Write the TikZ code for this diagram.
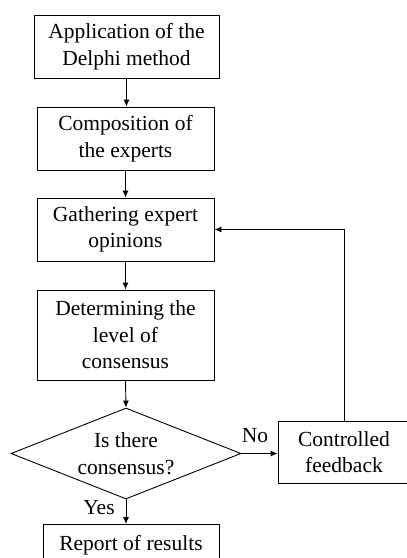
\documentclass[tikz,border=0pt]{standalone}
\usepackage{fontspec}
\setmainfont{Liberation Serif}
\usetikzlibrary{shapes.geometric,arrows.meta}
\begin{document}
\begin{tikzpicture}[x=1pt,y=-1pt,
  every node/.style={font=\fontsize{21.5}{26.5}\selectfont},
  stepbox/.style={draw, line width=0.9pt, align=center, inner sep=0pt, anchor=center},
  conn/.style={line width=0.9pt, -{Latex[length=7pt,width=6pt]}},
  plain/.style={line width=0.9pt}]
\useasboundingbox (0,0) rectangle (407,558);
\node[stepbox, minimum width=185pt, minimum height=63pt] (b1) at (126.5,46.5) {Application of the\\Delphi method};
\node[stepbox, minimum width=177pt, minimum height=63pt] (b2) at (125.5,138.5) {Composition of\\the experts};
\node[stepbox, minimum width=177pt, minimum height=63pt] (b3) at (125.5,229.5) {Gathering expert\\opinions};
\node[stepbox, minimum width=177pt, minimum height=90pt] (b4) at (125.5,335) {Determining the\\level of\\consensus};
\node[stepbox, shape=diamond, minimum width=230pt, minimum height=91pt] (d) at (126,453.5) {};
\node[align=center] (dtext) at (126,453.5) {Is there\\consensus?};
\node[stepbox, minimum width=132pt, minimum height=62pt] (fb) at (344,452) {Controlled\\feedback};
\node[stepbox, anchor=north, minimum width=176pt, minimum height=60pt] (rep) at (131,524) {};
\node (reptext) at (131,545) {Report of results};
\node (no) at (255,436) {No};
\node (yes) at (99,508) {Yes};
\draw[conn] (b1.south) -- (b2.north -| b1.south);
\draw[conn] (b2.south) -- (b3.north);
\draw[conn] (b3.south) -- (b4.north);
\draw[conn] (b4.south) -- (d.north);
\draw[conn] (d.east) -- (d.east -| fb.west);
\draw[conn] (d.south) -- (d.south |- rep.north);
\draw[conn] (fb.north) |- (b3.east);
\end{tikzpicture}
\end{document}
